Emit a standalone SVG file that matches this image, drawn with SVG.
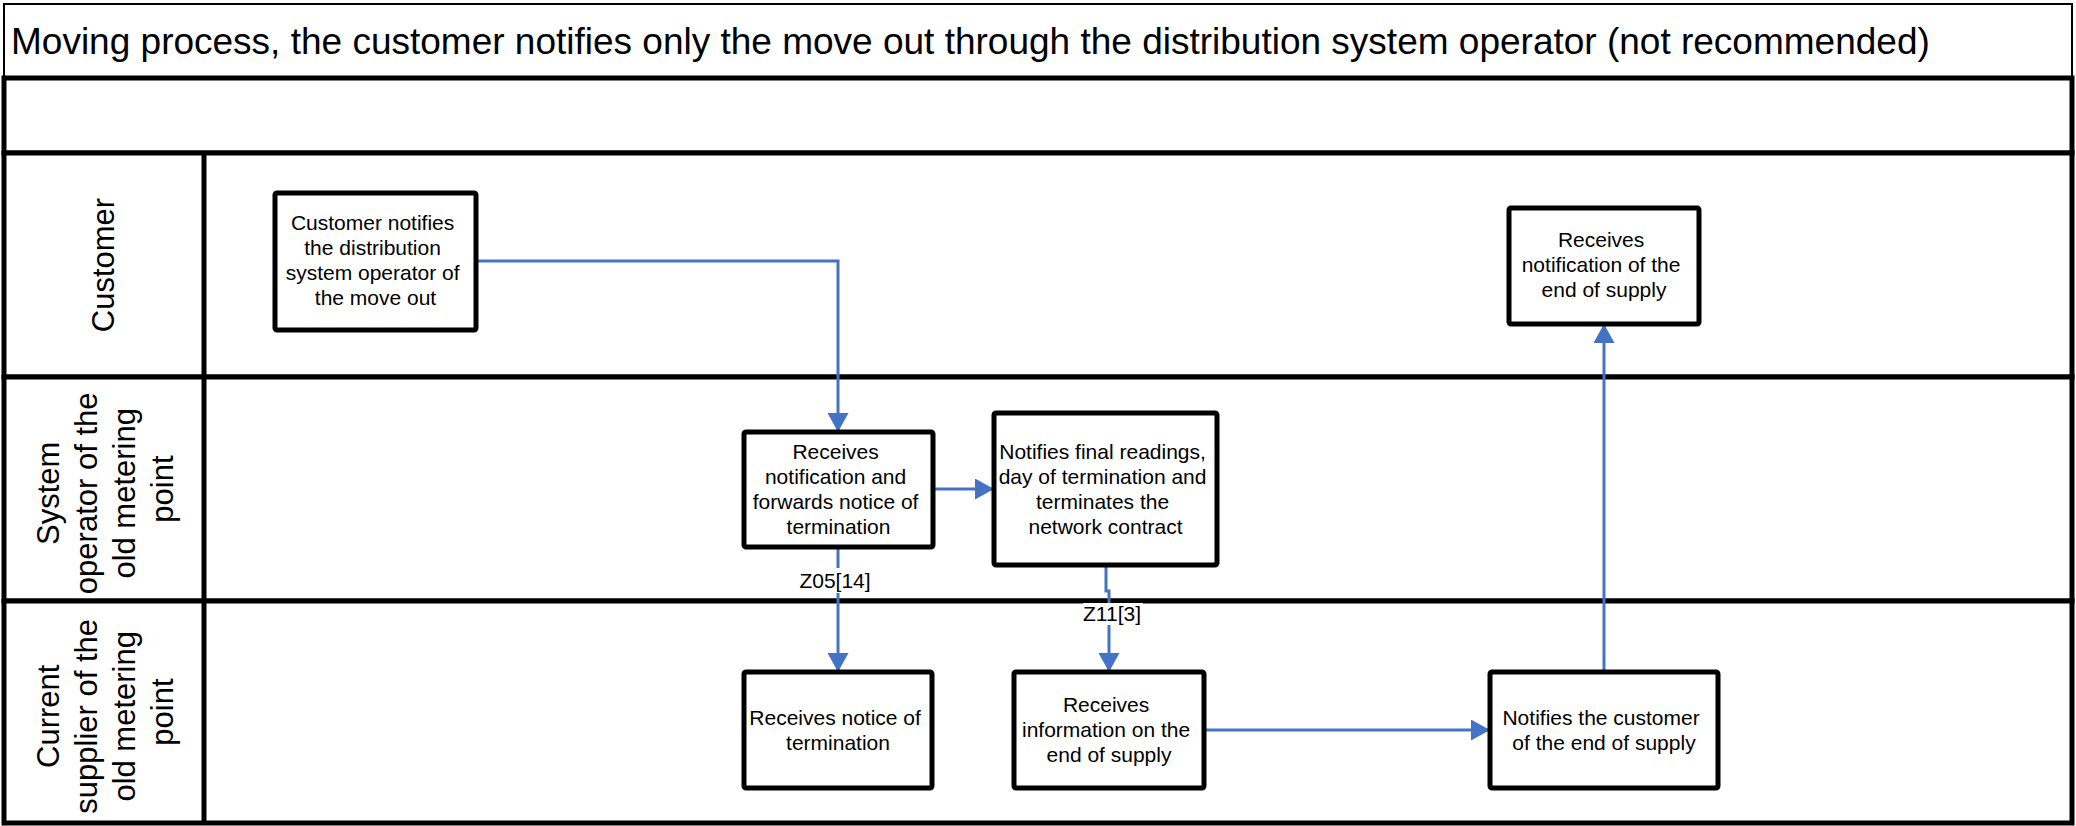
<svg xmlns="http://www.w3.org/2000/svg" width="2076" height="826" viewBox="0 0 2076 826">
  <style>
    .frame { fill: #ffffff; stroke: #000000; stroke-width: 5; }
    .thin { fill: #ffffff; stroke: #000000; stroke-width: 2; }
    .node rect { fill: #ffffff; stroke: #000000; stroke-width: 5; }
    .txt { font-family: "Liberation Sans", Arial, sans-serif; font-size: 21px; fill: #000000; text-anchor: middle; }
    .lane { font-family: "Liberation Sans", Arial, sans-serif; font-size: 31px; fill: #000000; text-anchor: middle; }
    .title { font-family: "Liberation Sans", Arial, sans-serif; font-size: 37px; fill: #000000; }
    .conn { fill: none; stroke: #4472C4; stroke-width: 3; }
    .lblbg { fill: #ffffff; }
  </style>
  <defs>
    <marker id="arrow" markerUnits="userSpaceOnUse" markerWidth="22" markerHeight="22" refX="19" refY="10.5" orient="auto">
      <path d="M0,0 L19,10.5 L0,21 z" fill="#4472C4"/>
    </marker>
  </defs>

  <rect width="2076" height="826" fill="#ffffff"/>

  <!-- title band -->
  <g id="title">
    <rect class="thin" x="4" y="4" width="2068" height="74"/>
    <text class="title" x="11" y="54">Moving process, the customer notifies only the move out through the distribution system operator (not recommended)</text>
  </g>

  <!-- empty band under the title -->
  <rect class="frame" x="4" y="78" width="2068" height="75"/>

  <!-- swimlanes -->
  <g id="lanes">
    <rect class="frame" x="4" y="153" width="2068" height="224"/>
    <rect class="frame" x="4" y="377" width="2068" height="224"/>
    <rect class="frame" x="4" y="601" width="2068" height="222"/>
    <line x1="204" y1="153" x2="204" y2="823" stroke="#000000" stroke-width="5"/>

    <g id="lane-customer">
      <text class="lane" transform="rotate(-90 103 265)" x="103" y="276">Customer</text>
    </g>
    <g id="lane-operator">
      <text class="lane" transform="rotate(-90 104.5 489)">
        <tspan x="104.5" y="443">System</tspan>
        <tspan x="104.5" y="481">operator of the</tspan>
        <tspan x="104.5" y="519">old metering</tspan>
        <tspan x="104.5" y="557">point</tspan>
      </text>
    </g>
    <g id="lane-supplier">
      <text class="lane" transform="rotate(-90 104.5 712)">
        <tspan x="104.5" y="666">Current</tspan>
        <tspan x="104.5" y="704">supplier of the</tspan>
        <tspan x="104.5" y="742">old metering</tspan>
        <tspan x="104.5" y="780">point</tspan>
      </text>
    </g>
  </g>

  <!-- connectors -->
  <g id="connectors">
    <polyline class="conn" points="476,261 838,261 838,432" marker-end="url(#arrow)"/>
    <line class="conn" x1="933" y1="489" x2="994" y2="489" marker-end="url(#arrow)"/>
    <line class="conn" x1="838" y1="547" x2="838" y2="672" marker-end="url(#arrow)"/>
    <polyline class="conn" points="1106,565 1106,591 1109,591 1109,672" marker-end="url(#arrow)"/>
    <line class="conn" x1="1204" y1="730" x2="1490" y2="730" marker-end="url(#arrow)"/>
    <line class="conn" x1="1604" y1="672" x2="1604" y2="324" marker-end="url(#arrow)"/>

    <g id="label-z05">
      <rect class="lblbg" x="798" y="568" width="74" height="25"/>
      <text class="txt" x="835" y="588">Z05[14]</text>
    </g>
    <g id="label-z11">
      <rect class="lblbg" x="1083" y="603" width="60" height="22"/>
      <text class="txt" x="1112" y="621">Z11[3]</text>
    </g>
  </g>

  <!-- process steps -->
  <g id="customer-notifies" class="node">
    <rect x="275" y="193" width="201" height="137" rx="2"/>
    <text class="txt">
      <tspan x="375.5" y="230">Customer notifies</tspan>
      <tspan x="375.5" y="255">the distribution</tspan>
      <tspan x="375.5" y="280">system operator of</tspan>
      <tspan x="375.5" y="305">the move out</tspan>
    </text>
  </g>

  <g id="receives-notification" class="node">
    <rect x="744" y="432" width="189" height="115" rx="2"/>
    <text class="txt">
      <tspan x="838.5" y="459">Receives</tspan>
      <tspan x="838.5" y="484">notification and</tspan>
      <tspan x="838.5" y="509">forwards notice of</tspan>
      <tspan x="838.5" y="534">termination</tspan>
    </text>
  </g>

  <g id="notifies-final-readings" class="node">
    <rect x="994" y="413" width="223" height="152" rx="2"/>
    <text class="txt">
      <tspan x="1105.5" y="459">Notifies final readings,</tspan>
      <tspan x="1105.5" y="484">day of termination and</tspan>
      <tspan x="1105.5" y="509">terminates the</tspan>
      <tspan x="1105.5" y="534">network contract</tspan>
    </text>
  </g>

  <g id="receives-notice" class="node">
    <rect x="744" y="672" width="188" height="116" rx="2"/>
    <text class="txt">
      <tspan x="838" y="725">Receives notice of</tspan>
      <tspan x="838" y="750">termination</tspan>
    </text>
  </g>

  <g id="receives-information" class="node">
    <rect x="1014" y="672" width="190" height="116" rx="2"/>
    <text class="txt">
      <tspan x="1109" y="712">Receives</tspan>
      <tspan x="1109" y="737">information on the</tspan>
      <tspan x="1109" y="762">end of supply</tspan>
    </text>
  </g>

  <g id="notifies-customer" class="node">
    <rect x="1490" y="672" width="228" height="116" rx="2"/>
    <text class="txt">
      <tspan x="1604" y="725">Notifies the customer</tspan>
      <tspan x="1604" y="750">of the end of supply</tspan>
    </text>
  </g>

  <g id="receives-end-of-supply" class="node">
    <rect x="1509" y="208" width="190" height="116" rx="2"/>
    <text class="txt">
      <tspan x="1604" y="247">Receives</tspan>
      <tspan x="1604" y="272">notification of the</tspan>
      <tspan x="1604" y="297">end of supply</tspan>
    </text>
  </g>
</svg>
